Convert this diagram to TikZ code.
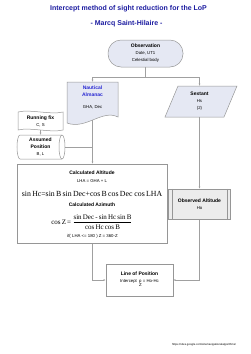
\documentclass[tikz,border=0pt]{standalone}
\usepackage{fontspec}
\setmainfont{Liberation Sans}
\newfontfamily\frmfont{Liberation Serif}
\usepackage{tikz}
\usetikzlibrary{arrows.meta,positioning,calc,backgrounds}
\definecolor{edge}{RGB}{150,150,150}
\definecolor{wire}{RGB}{160,160,160}
\definecolor{pale}{RGB}{229,232,243}
\definecolor{greyb}{RGB}{236,236,236}
\definecolor{navy}{RGB}{28,28,160}
\definecolor{blu}{RGB}{40,40,210}
\newcommand\bxhead[1]{{\fontsize{5}{6}\selectfont\bfseries #1}}
\newcommand\almhead[1]{{\fontsize{5}{6}\selectfont\bfseries\color{blu}#1}}
\tikzset{
  box/.style={draw=edge,line width=0.5pt,inner sep=0pt,align=center,
    font=\fontsize{4.3}{7}\selectfont},
  txt/.style={inner sep=0pt,align=center,font=\fontsize{4.3}{7}\selectfont},
  outl/.style={draw=edge,line width=0.5pt},
  arr/.style={-{Latex[length=2.2pt,width=2pt]},draw=wire,line width=0.45pt},
  wire/.style={draw=wire,line width=0.45pt},
}
\begin{document}
\begin{tikzpicture}[x=1pt,y=-1pt]
\useasboundingbox (0,0) rectangle (250,354);
% title
\node[txt,text=navy,font=\fontsize{7}{8}\selectfont\bfseries] (ttl) at (128.5,9) {Intercept method of sight reduction for the LoP};
\node[txt,text=navy,font=\fontsize{7}{8}\selectfont\bfseries] (sub) at (126.5,24) {- Marcq Saint-Hilaire -};
% inputs
\node[box,rounded corners=13pt,fill=pale,minimum width=75pt,minimum height=27pt] (obs) at (145.5,53.5)
  {\bxhead{Observation}\\Date, UT1\\Celestial body};
\filldraw[outl,fill=pale] (67,82) -- (118,82) -- (118,117)
  .. controls (102,109) and (86,130) .. (67,123) -- cycle;
\node[txt,minimum width=51pt,minimum height=31pt] (alm) at (92.5,97.5)
  {\almhead{Nautical}\\\almhead{Almanac}\\[5pt]GHA, Dec};
\filldraw[outl,fill=pale] (165,117) -- (178,86) -- (237,86) -- (224,117) -- cycle;
\node[txt,minimum width=59pt,minimum height=31pt] (sxt) at (199.5,101.5)
  {\bxhead{Sextant}\\Hs\\(2)};
\filldraw[outl,fill=white] (18,112) .. controls (30,109) and (51,115) .. (63,112)
  -- (63,130) .. controls (51,133) and (30,127) .. (18,130) -- cycle;
\node[txt,minimum width=45pt,minimum height=18pt] (rfix) at (40.5,121)
  {\bxhead{Running fix}\\C, S};
\filldraw[outl,fill=white] (20,135) -- (62,135) arc[start angle=-90,end angle=90,x radius=3,y radius=12]
  -- (20,159) arc[start angle=90,end angle=270,x radius=3,y radius=12] -- cycle;
\draw[outl] (62,159) arc[start angle=90,end angle=270,x radius=3,y radius=12];
\node[txt,minimum width=45pt,minimum height=24pt] (apos) at (40.5,147)
  {\bxhead{Assumed}\\[-0.5pt]\bxhead{Position}\\B, L};
% computation
\node[box,fill=white,minimum width=150pt,minimum height=79pt] (calc) at (92,203.5) {};
\node[txt] (cat) at (92,173) {\bxhead{Calculated Altitude}};
\node[txt] (lha) at (92,181) {LHA = GHA + L};
\node[txt,font=\frmfont\fontsize{7.8}{9}\selectfont] (hcf) at (92,194)
  {sin\,Hc=sin\,B\,sin\,Dec+cos\,B\,cos\,Dec cos\,LHA};
\node[txt] (caz) at (92,205) {\bxhead{Calculated Azimuth}};
\node[txt,font=\frmfont\fontsize{7}{8}\selectfont] (czf) at (92,222)
  {cos\,Z\,=\,$\displaystyle\frac{\hbox{\frmfont sin\,Dec\,-\,sin\,Hc\,sin\,B}}{\hbox{\frmfont cos\,Hc\,cos\,B}}$};
\node[txt] (cif) at (92.5,236) {if( LHA <= 180 ) Z = 360-Z};
\node[box,fill=greyb,minimum width=62pt,minimum height=30pt] (oalt) at (199.5,204)
  {\bxhead{Observed Altitude}\\Ho};
\draw[outl] ([xshift=4pt]oalt.north west) -- ([xshift=4pt]oalt.south west)
  ([xshift=-4pt]oalt.north east) -- ([xshift=-4pt]oalt.south east);
\node[box,fill=white,minimum width=67pt,minimum height=32pt] (lop) at (139.5,280)
  {\bxhead{Line of Position}\\Intercept\enspace\begin{tabular}[t]{@{}c@{}}p\\[-2.5pt]Z\end{tabular} = Ho-Hc};
\node[txt,font=\fontsize{2.8}{3}\selectfont] (url) at (204,345) {https://sites.google.com/site/navigationalalgorithms/};
% connectors
\begin{scope}[on background layer]
\coordinate (fork) at (obs.south |- 0,77);
\draw[wire] (obs) -- (fork);
\draw[arr] (fork) -| (alm.north);
\draw[arr] (fork) -| (sxt.north);
\draw[arr] (sxt) -- (oalt);
\draw[arr] (rfix) -- (apos);
\draw[arr] (alm) -- (alm |- calc.north);
\draw[wire] (apos) -- (apos -| alm);
\draw[arr] (alm |- calc.south) |- (lop.west);
\draw[arr] (oalt) |- (lop.east);
\end{scope}
\end{tikzpicture}
\end{document}
